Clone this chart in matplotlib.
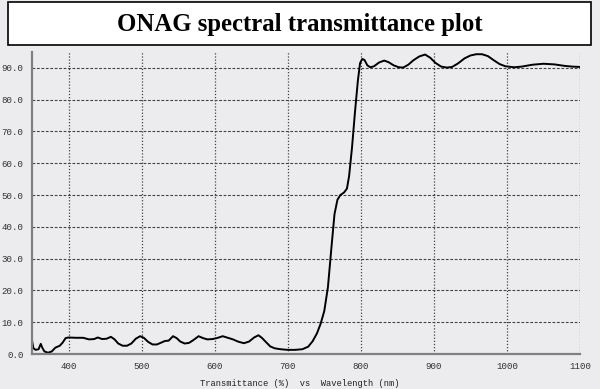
"""ONAG spectral transmittance plot."""

import matplotlib
matplotlib.use("Agg")
import matplotlib.pyplot as plt
import matplotlib.patches as patches

# Data
wavelength = [350, 352, 355, 359, 362, 364, 367, 372, 377, 382, 388, 392, 396,
              400, 410, 420, 428, 435, 440, 446, 452, 458, 463, 468, 474, 480,
              486, 492, 498, 503, 509, 515, 521, 527, 532, 537, 543, 548, 553,
              559, 565, 571, 578, 584, 590, 597, 603, 611, 618, 625, 632, 640,
              647, 654, 660, 665, 670, 676, 682, 690, 700, 710, 720, 728, 734,
              740, 745, 750, 755, 760, 764, 768, 772, 777, 781, 784, 788, 792,
              796, 799, 802, 805, 809, 813, 818, 825, 832, 838, 845, 852, 858,
              865, 872, 880, 888, 895, 902, 910, 918, 925, 933, 942, 950, 958,
              966, 974, 982, 990, 998, 1010, 1020, 1035, 1050, 1065, 1080,
              1090, 1100]
transmittance = [4.2, 1.8, 1.3, 1.5, 3.2, 2.0, 0.8, 0.4, 0.8, 2.0, 2.6, 3.6, 5.0,
                 5.2, 5.1, 5.1, 4.6, 4.7, 5.2, 4.7, 4.8, 5.4, 4.6, 3.3, 2.6, 2.6,
                 3.3, 4.8, 5.6, 5.1, 3.8, 3.0, 3.0, 3.6, 4.1, 4.2, 5.6, 5.0, 3.9,
                 3.3, 3.5, 4.4, 5.6, 5.0, 4.6, 4.7, 5.0, 5.6, 5.1, 4.6, 3.9, 3.4,
                 3.9, 5.2, 5.9, 5.0, 3.8, 2.4, 1.8, 1.5, 1.3, 1.3, 1.5, 2.3, 4.0,
                 6.5, 9.5, 13.5, 21.0, 34.0, 44.0, 48.5, 50.0, 50.8, 52.0, 56.0,
                 65.0, 76.0, 86.0, 91.5, 92.8, 92.5, 90.8, 90.2, 90.5, 91.7, 92.3,
                 91.8, 90.8, 90.2, 90.1, 91.0, 92.4, 93.6, 94.2, 93.2, 91.6, 90.4,
                 90.1, 90.3, 91.4, 93.0, 93.9, 94.3, 94.3, 93.7, 92.4, 91.2, 90.5,
                 90.2, 90.4, 91.0, 91.3, 91.1, 90.6, 90.4, 90.3]

x_ticks = [400, 500, 600, 700, 800, 900, 1000, 1100]
y_ticks = [0, 10, 20, 30, 40, 50, 60, 70, 80, 90]

bg = '#ECEBEE'
mono = ['Liberation Mono', 'DejaVu Sans Mono']

fig = plt.figure(figsize=(6, 3.89), dpi=100, facecolor=bg)
ax = fig.add_axes([32 / 600, 1 - 354 / 389, 548 / 600, 302 / 389])
ax.set_facecolor(bg)

# Title box
box = patches.Rectangle((8 / 600, 1 - 45 / 389), 583 / 600, 43 / 389,
                        transform=fig.transFigure, facecolor='white',
                        edgecolor='black', linewidth=1.2)
fig.patches.append(box)
fig.text(0.5, 1 - 24 / 389, 'ONAG spectral transmittance plot',
         ha='center', va='center', fontsize=17.8, fontweight='bold',
         family='Liberation Serif')

ax.plot(wavelength, transmittance, color='black', linewidth=1.4)

ax.set_xlim(350, 1100)
ax.set_ylim(0, 95)
ax.set_xticks(x_ticks)
ax.set_yticks(y_ticks)
ax.set_yticklabels([f'{v:.1f}' for v in y_ticks])
ax.tick_params(length=0, labelsize=6.6, colors='#333333', pad=6)
for lbl in ax.get_xticklabels() + ax.get_yticklabels():
    lbl.set_family(mono)

# Grid: dashed horizontals, dotted verticals
for v in y_ticks[1:]:
    ax.axhline(v, color='#444444', linewidth=0.8, linestyle=(0, (2.5, 1.5)), zorder=0)
for v in x_ticks:
    ax.axvline(v, color='#444444', linewidth=0.9, linestyle=(0, (1, 1.5)), zorder=0)

for side in ['top', 'right']:
    ax.spines[side].set_visible(False)
for side in ['left', 'bottom']:
    ax.spines[side].set_color('#808080')
    ax.spines[side].set_linewidth(1.6)

fig.text(0.5, 1 - 383 / 389, 'Transmittance (%)  vs  Wavelength (nm)',
         ha='center', va='center', fontsize=6.3, color='#222222', family=mono)

fig.savefig('out.png', dpi=100, facecolor=bg)
